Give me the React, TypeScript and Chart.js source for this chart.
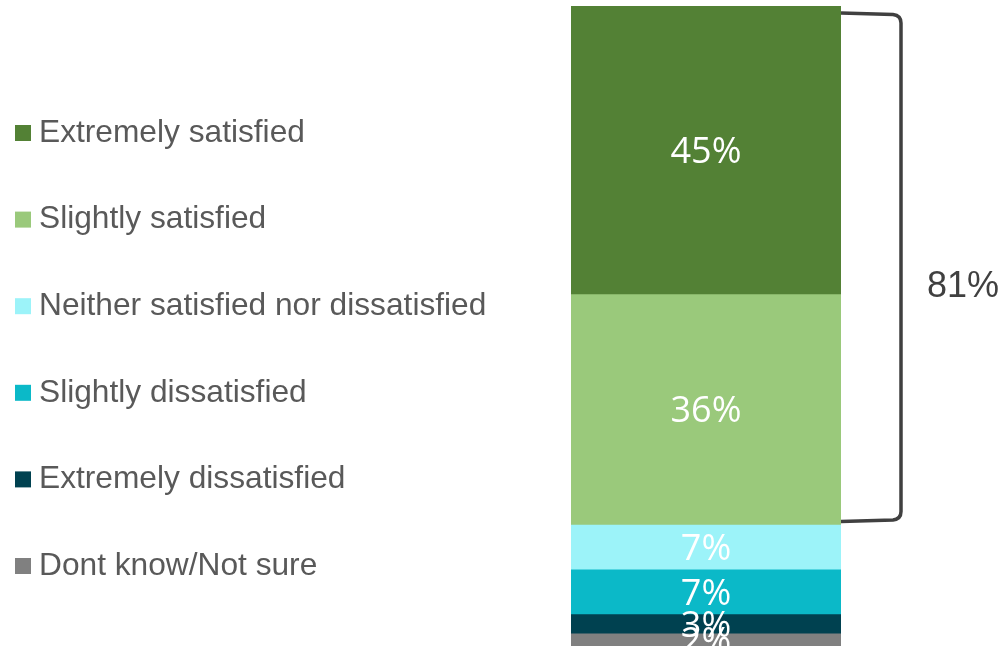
import React, { useEffect, useRef } from "react";
import { Chart, registerables } from "chart.js";

Chart.register(...registerables);

const categories = ["Overall"];
const seriesLabels = [
  "Extremely satisfied",
  "Slightly satisfied",
  "Neither satisfied nor dissatisfied",
  "Slightly dissatisfied",
  "Extremely dissatisfied",
  "Dont know/Not sure",
];
const seriesValues = [45, 36, 7, 7, 3, 2];
const seriesColors = ["#538135", "#9AC97B", "#9CF3F9", "#0BB9C8", "#004150", "#808080"];
const bracketSeriesCount = 2; // bracket spans the first two (satisfied) series

const overlayPlugin = {
  id: "overlay",
  afterDatasetsDraw(chart: any) {
    const ctx = chart.ctx as CanvasRenderingContext2D;
    ctx.save();
    // data labels
    ctx.fillStyle = "#FFFFFF";
    ctx.font = '36px "Open Sans", sans-serif';
    ctx.textAlign = "center";
    ctx.textBaseline = "middle";
    chart.data.datasets.forEach((ds: any, i: number) => {
      const meta = chart.getDatasetMeta(i);
      meta.data.forEach((bar: any, j: number) => {
        const cy = (bar.y + bar.base) / 2;
        ctx.fillText(ds.data[j] + "%", bar.x, cy + 3);
      });
    });

    // legend
    ctx.textAlign = "left";
    ctx.textBaseline = "middle";
    ctx.font = '31.7px "Liberation Sans", Arial, sans-serif';
    seriesLabels.forEach((label, i) => {
      const cy = 133 + i * 86.6;
      ctx.fillStyle = seriesColors[i];
      ctx.fillRect(15, cy - 8, 16, 16);
      ctx.fillStyle = "#595959";
      ctx.fillText(label, 39, cy);
    });

    // bracket
    const yScale = chart.scales.y;
    const meta0 = chart.getDatasetMeta(0);
    const bar = meta0.data[0] as any;
    const right = bar.x + bar.width / 2;
    let sum = 0;
    for (let k = 0; k < bracketSeriesCount; k++) sum += seriesValues[k];
    const top = yScale.getPixelForValue(0) + 7;
    const bottom = yScale.getPixelForValue(sum) - 3;
    const bx = right + 60;
    ctx.strokeStyle = "#404040";
    ctx.lineWidth = 3.5;
    ctx.lineCap = "butt";
    ctx.beginPath();
    ctx.moveTo(right, top);
    ctx.lineTo(bx - 8, top + 1.5);
    ctx.quadraticCurveTo(bx, top + 2.5, bx, top + 10);
    ctx.lineTo(bx, bottom - 10);
    ctx.quadraticCurveTo(bx, bottom - 2.5, bx - 8, bottom - 1.5);
    ctx.lineTo(right, bottom);
    ctx.stroke();

    ctx.fillStyle = "#404040";
    ctx.font = '36px "Liberation Sans", Arial, sans-serif';
    ctx.textAlign = "left";
    ctx.textBaseline = "alphabetic";
    ctx.fillText(sum + "%", 927, 297);
    ctx.restore();
  },
};

export default function App() {
  const ref = useRef<HTMLCanvasElement | null>(null);
  useEffect(() => {
    if (!ref.current) return;
    const chart = new Chart(ref.current, {
      type: "bar",
      data: {
        labels: categories,
        datasets: seriesLabels.map((label, i) => ({
          label,
          data: [seriesValues[i]],
          backgroundColor: seriesColors[i],
          borderWidth: 0,
          barPercentage: 1,
          categoryPercentage: 1,
        })),
      },
      options: {
        animation: false,
        responsive: true,
        maintainAspectRatio: false,
        layout: { padding: { left: 571, right: 166, top: 6, bottom: 0 } },
        scales: {
          x: { display: false, stacked: true },
          y: { display: false, stacked: true, min: 0, max: 100, reverse: true },
        },
        plugins: {
          legend: { display: false },
          tooltip: { enabled: false },
        },
      },
      plugins: [overlayPlugin],
    });
    return () => chart.destroy();
  }, []);
  return (
    <div style={{ position: "absolute", left: 0, top: 0, width: 1007, height: 646, background: "#fff" }}>
      <canvas ref={ref} />
    </div>
  );
}
